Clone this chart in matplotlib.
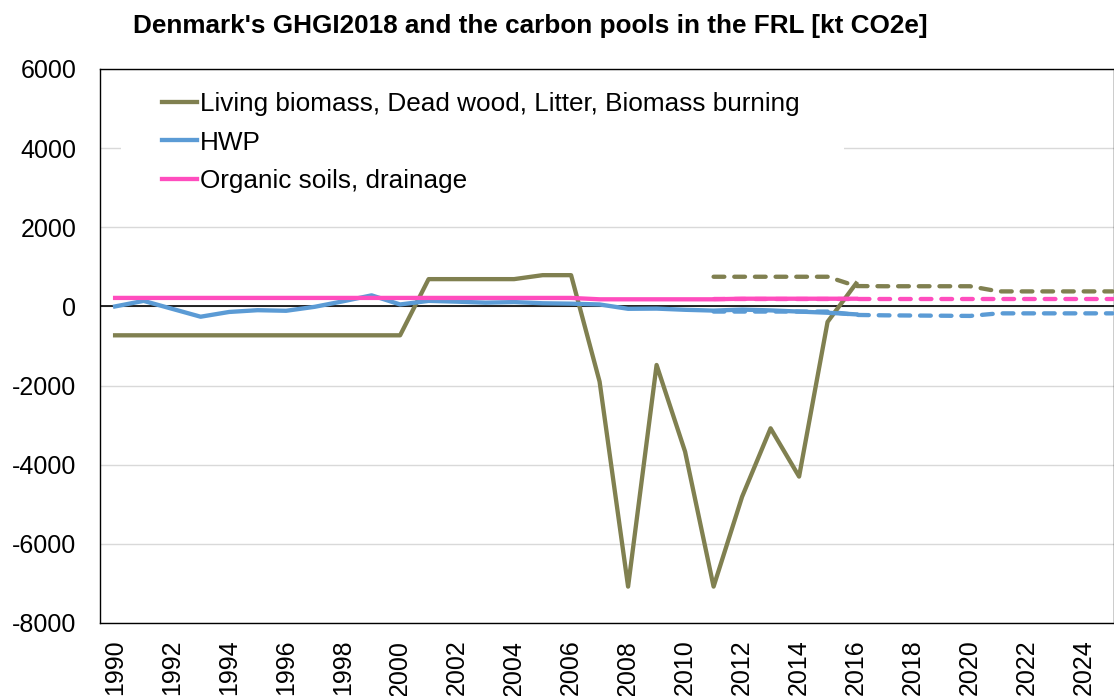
import matplotlib
matplotlib.use("Agg")
import matplotlib.pyplot as plt
from matplotlib.patches import Rectangle

plt.rcParams['font.family'] = ['Liberation Sans', 'DejaVu Sans']
plt.rcParams['axes.unicode_minus'] = False

# GHGI2018 series, 1990-2016
years = list(range(1990, 2017))
living = [-730, -730, -730, -730, -730, -730, -730, -730, -730, -730, -730,
          690, 690, 690, 690, 790, 790, -1900, -7080, -1480, -3670, -7080,
          -4810, -3080, -4300, -390, 580]
hwp = [0, 140, -60, -260, -140, -95, -110, -10, 130, 280, 50,
       140, 120, 95, 110, 80, 70, 50, -60, -55, -85, -105,
       -80, -100, -130, -160, -200]
organic = [215] * 17 + [180] * 5 + [195] * 5

# FRL series, 2011-2025
frl_years = list(range(2011, 2026))
living_frl = [750, 750, 750, 750, 750, 515, 510, 510, 510, 510, 380, 380, 380, 380, 380]
hwp_frl = [-130, -130, -130, -130, -130, -215, -225, -230, -235, -240, -175, -175, -175, -175, -175]
organic_frl = [185] * 15

labels = ['Living biomass, Dead wood, Litter, Biomass burning', 'HWP',
          'Organic soils, drainage']
c_green = '#808050'
c_blue = '#5B9BD5'
c_pink = '#FF4DBE'

fig = plt.figure(figsize=(11.14, 6.96), dpi=100)
ax = fig.add_axes([100 / 1114, 73 / 696, 1014 / 1114, 554 / 696])

dash = (0, (2.5, 2.3))
ax.plot(frl_years, living_frl, color=c_green, lw=3.1, ls=dash, dash_capstyle='round', zorder=3)
ax.plot(frl_years, hwp_frl, color=c_blue, lw=3.1, ls=dash, dash_capstyle='round', zorder=3)
ax.plot(frl_years, organic_frl, color=c_pink, lw=3.1, ls=dash, dash_capstyle='round', zorder=3)
l1, = ax.plot(years, living, color=c_green, lw=3.1, zorder=4)
l2, = ax.plot(years, hwp, color=c_blue, lw=3.1, zorder=4)
l3, = ax.plot(years, organic, color=c_pink, lw=3.1, zorder=4)

ax.axhline(0, color='black', lw=1.2, zorder=2.5)
ax.set_ylim(-8000, 6000)
ax.set_yticks(range(-8000, 6001, 2000))
ax.set_xlim(1989.47, 2025.05)
ax.set_xticks(range(1990, 2025, 2))
ax.tick_params(axis='y', length=0, pad=17, labelsize=18)
ax.tick_params(axis='x', length=0, pad=12, labelsize=18, labelrotation=90)
ax.grid(axis='y', color='#D9D9D9', lw=1)
ax.set_axisbelow(True)
for s in ax.spines.values():
    s.set_linewidth(1)
    s.set_color('black')

# white legend box hiding the gridline behind it
ax.add_patch(Rectangle((0.0207, 0.755), 0.713, 0.225, transform=ax.transAxes,
                       facecolor='white', edgecolor='none', zorder=1.5))
ax.legend([l1, l2, l3], labels, loc='upper left', bbox_to_anchor=(0.0562, 0.968),
          frameon=False, fontsize=18.8, handlelength=1.34, handletextpad=0.12,
          labelspacing=0.56, borderpad=0.2, borderaxespad=0)

fig.text(530 / 1114, 1 - 26 / 696, "Denmark's GHGI2018 and the carbon pools in the FRL [kt CO2e]",
         ha='center', va='center', fontsize=18.8, fontweight='bold')

fig.savefig('out.png', dpi=100)
